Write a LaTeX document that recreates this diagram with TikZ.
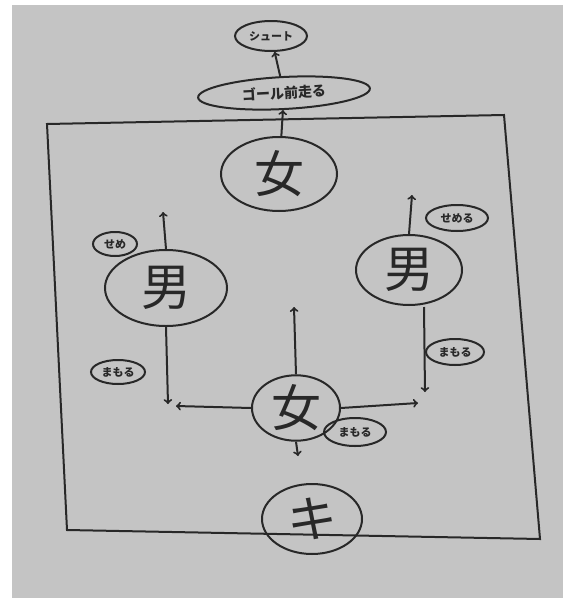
\documentclass[tikz,border=0pt]{standalone}
\usepackage{fontspec}
\newfontfamily\jp{Noto Sans CJK JP}
\usepackage{tikz}
\usetikzlibrary{arrows}
\usetikzlibrary{shapes.geometric, arrows}
\definecolor{paper}{RGB}{196,196,196}
\definecolor{pen}{RGB}{40,40,40}
\tikzstyle{arrow} = [line width=2pt,->,>=to,draw=pen]
\tikzstyle{player} = [ellipse, draw=pen, line width=2pt, inner sep=0pt, font=\jp\fontsize{50}{50}\selectfont, text=pen]
\tikzstyle{tag} = [ellipse, draw=pen, line width=2pt, inner sep=1pt, font=\jp\bfseries\fontsize{11}{11}\selectfont, text=pen]

\begin{document}
\begin{tikzpicture}[x=1pt,y=-1pt]
\useasboundingbox (0,0) rectangle (563,608);
\fill [white] (0,0) rectangle (563,608);
\fill [paper] (12,5) rectangle (563,598);

% field
\draw [pen, line width=2pt] (47,124) -- (504,115) -- (540,539) -- (67,530) -- cycle;

\node [tag, minimum width=72, minimum height=30] (shoot) at (271,36) {シュート};
\node [tag, minimum width=172, minimum height=32, rotate=3, font=\jp\bfseries\fontsize{14}{14}\selectfont] (run) at (284,93) {ゴール前走る};

\node [player, minimum width=116, minimum height=74] (fw) at (279,174) {女};
\node [player, minimum width=122, minimum height=76] (ml) at (166,288) {男};
\node [player, minimum width=106, minimum height=70] (mr) at (409,270) {男};
\node [player, minimum width=88, minimum height=64] (fc) at (296,408) {女};
\node [player, minimum width=100, minimum height=70] (gk) at (312,519) {キ};

\node [tag, minimum width=44, minimum height=24] (ml1) at (115,244) {せめ};
\node [tag, minimum width=54, minimum height=24] (ml2) at (118,372) {まもる};
\node [tag, minimum width=62, minimum height=26] (mr1) at (457,218) {せめる};
\node [tag, minimum width=58, minimum height=26] (mr2) at (455,352) {まもる};
\node [tag, minimum width=62, minimum height=28] (fc1) at (355,432) {まもる};

\coordinate (mlup) at (163,212);
\coordinate (mldn) at (168,404);
\coordinate (mrup) at (412,195);
\coordinate (mrdn) at (425,392);
\coordinate (fcup) at (294,307);
\coordinate (fcl) at (176,406);
\coordinate (fcr) at (418,403);
\coordinate (fcdn) at (298,456);

\draw [arrow] (run) to (shoot);
\draw [arrow] (fw) to (run);

\draw [arrow] (ml.north) to (mlup);
\draw [arrow] (ml.south) to (mldn);
\draw [arrow] (mr.north) to (mrup);
\draw [arrow] (mr.south) ++(15,1) to (mrdn);

\draw [arrow] (fc.north) to (fcup);
\draw [arrow] (fc.west) to (fcl);
\draw [arrow] (fc.east) to (fcr);
\draw [arrow] (fc.south) to (fcdn);
\end{tikzpicture}
\end{document}
